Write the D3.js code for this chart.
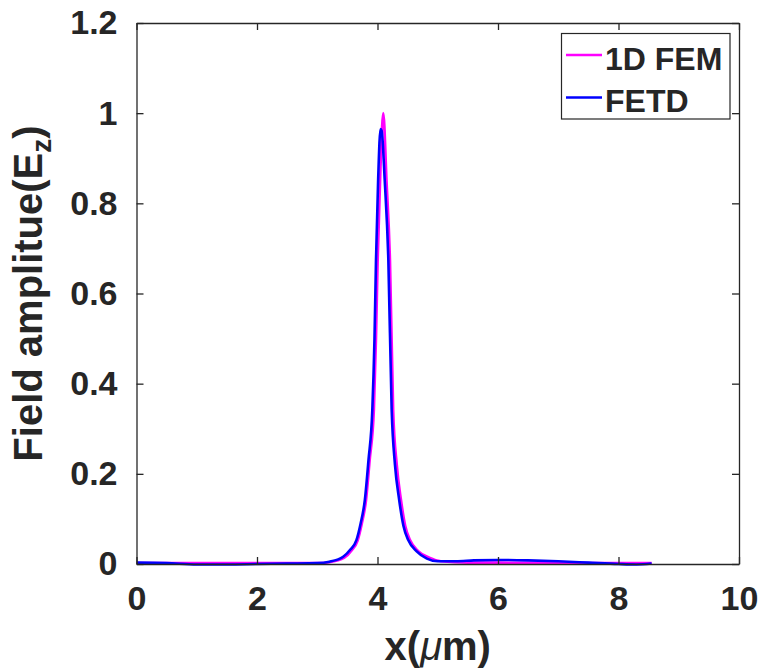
<!DOCTYPE html>
<html><head><meta charset="utf-8">
<script src="https://cdn.jsdelivr.net/npm/d3@7/dist/d3.min.js"></script>
<style>body{margin:0;background:#fff}svg{display:block}text{font-family:"Liberation Sans",Arial,sans-serif;font-weight:bold;fill:#262626}</style>
</head><body>
<script>
const xTicks = [0, 2, 4, 6, 8, 10];
const yTicks = [0, 0.2, 0.4, 0.6, 0.8, 1, 1.2];
const yTickLabels = ["0", "0.2", "0.4", "0.6", "0.8", "1", "1.2"];
const seriesNames = ["1D FEM", "FETD"];

const femX = [0, 1, 2, 3, 3.2, 3.45, 3.57, 3.67, 3.74, 3.81, 3.87, 3.94, 3.975, 4.003, 4.05, 4.096, 4.15, 4.207, 4.26, 4.32, 4.39, 4.46, 4.54, 4.68, 4.86, 5.05, 5.5, 6, 7, 8, 8.55];
const femY = [0.002, 0.002, 0.002, 0.002, 0.004, 0.014, 0.03, 0.052, 0.09, 0.142, 0.23, 0.342, 0.5, 0.674, 0.88, 1.0, 0.85, 0.674, 0.342, 0.22, 0.142, 0.085, 0.053, 0.028, 0.014, 0.006, 0.003, 0.003, 0.002, 0.002, 0.002];

const fetdX = [0, 0.5, 1, 1.5, 2, 2.5, 3, 3.2, 3.43, 3.55, 3.65, 3.72, 3.79, 3.85, 3.914, 3.95, 3.975, 4.01, 4.05, 4.07, 4.12, 4.18, 4.235, 4.29, 4.36, 4.43, 4.51, 4.65, 4.82, 5.0, 5.3, 5.6, 6.0, 6.5, 7.0, 7.5, 8.0, 8.3, 8.55];
const fetdY = [0.003, 0.002, -0.001, -0.001, 0.0, 0.001, 0.002, 0.005, 0.016, 0.032, 0.053, 0.09, 0.142, 0.23, 0.342, 0.5, 0.674, 0.85, 0.965, 0.96, 0.85, 0.674, 0.342, 0.22, 0.142, 0.085, 0.053, 0.028, 0.012, 0.006, 0.006, 0.008, 0.009, 0.008, 0.006, 0.003, 0.0, -0.001, 0.001];

const W = 763, H = 672;
const m = {left: 136.5, top: 23, right: 739, bottom: 564};
const svg = d3.select("body").append("svg").attr("width", W).attr("height", H);

const x = d3.scaleLinear().domain([0, 10]).range([m.left, m.right]);
const y = d3.scaleLinear().domain([0, 1.2]).range([m.bottom, m.top]);

const axisColor = "#262626";
const tl = 7;

const line = d3.line().x(d => x(d[0])).y(d => y(d[1])).curve(d3.curveMonotoneX);
const femData = femX.map((v, i) => [v, femY[i]]);
const fetdData = fetdX.map((v, i) => [v, fetdY[i]]);
const colors = ["#ff00ff", "#0000ff"];

svg.append("clipPath").attr("id", "c").append("rect")
  .attr("x", m.left).attr("y", m.top).attr("width", m.right - m.left).attr("height", m.bottom - m.top + 2);

const g = svg.append("g").attr("clip-path", "url(#c)");
g.append("path").datum(femData).attr("d", line).attr("fill", "none").attr("stroke", colors[0]).attr("stroke-width", 2.6).attr("stroke-linejoin", "round");
g.append("path").datum(fetdData).attr("d", line).attr("fill", "none").attr("stroke", colors[1]).attr("stroke-width", 2.6).attr("stroke-linejoin", "round");

const xAxisB = d3.axisBottom(x).tickValues(xTicks).tickSizeInner(-tl).tickSizeOuter(0).tickPadding(tl + 15).tickFormat(d3.format("d"));
const xAxisT = d3.axisTop(x).tickValues(xTicks).tickSizeInner(-tl).tickSizeOuter(0).tickFormat("");
const yAxisL = d3.axisLeft(y).tickValues(yTicks).tickSizeInner(-tl).tickSizeOuter(0).tickPadding(tl + 12).tickFormat((d, i) => yTickLabels[i]);
const yAxisR = d3.axisRight(y).tickValues(yTicks).tickSizeInner(-tl).tickSizeOuter(0).tickFormat("");

function style(sel) {
  sel.select(".domain").attr("stroke", axisColor).attr("stroke-width", 1.3);
  sel.selectAll(".tick line").attr("stroke", axisColor).attr("stroke-width", 1.3);
  sel.selectAll(".tick text").attr("font-size", 34).attr("font-family", '"Liberation Sans",Arial,sans-serif').attr("font-weight", "bold").attr("fill", axisColor);
}
svg.append("g").attr("transform", `translate(0,${m.bottom})`).call(xAxisB).call(style);
svg.append("g").attr("transform", `translate(0,${m.top})`).call(xAxisT).call(style);
svg.append("g").attr("transform", `translate(${m.left},0)`).call(yAxisL).call(style);
svg.append("g").attr("transform", `translate(${m.right},0)`).call(yAxisR).call(style);

const xl = svg.append("text").attr("x", (m.left + m.right) / 2).attr("y", 660).attr("text-anchor", "middle").attr("font-size", 40);
xl.append("tspan").text("x(");
xl.append("tspan").attr("font-style", "italic").attr("font-weight", "normal").text("μ");
xl.append("tspan").text("m)");

const yl = svg.append("text").attr("transform", `translate(42,${(m.top + m.bottom) / 2}) rotate(-90)`).attr("text-anchor", "middle").attr("font-size", 40);
yl.append("tspan").text("Field amplitue(E");
yl.append("tspan").attr("font-size", 28).attr("dy", 9).text("z");
yl.append("tspan").attr("dy", -9).text(")");

const lg = svg.append("g");
lg.append("rect").attr("x", 561.5).attr("y", 33.5).attr("width", 168.5).attr("height", 85.5).attr("fill", "#fff").attr("stroke", axisColor).attr("stroke-width", 1.2);
const ly = [55, 97.5];
seriesNames.forEach((n, i) => {
  lg.append("line").attr("x1", 566).attr("x2", 602).attr("y1", ly[i]).attr("y2", ly[i]).attr("stroke", colors[i]).attr("stroke-width", 2.6);
  lg.append("text").attr("x", 605).attr("y", ly[i] + 14.5).attr("font-size", 32).attr("fill", "#000").text(n);
});
</script>
</body></html>
